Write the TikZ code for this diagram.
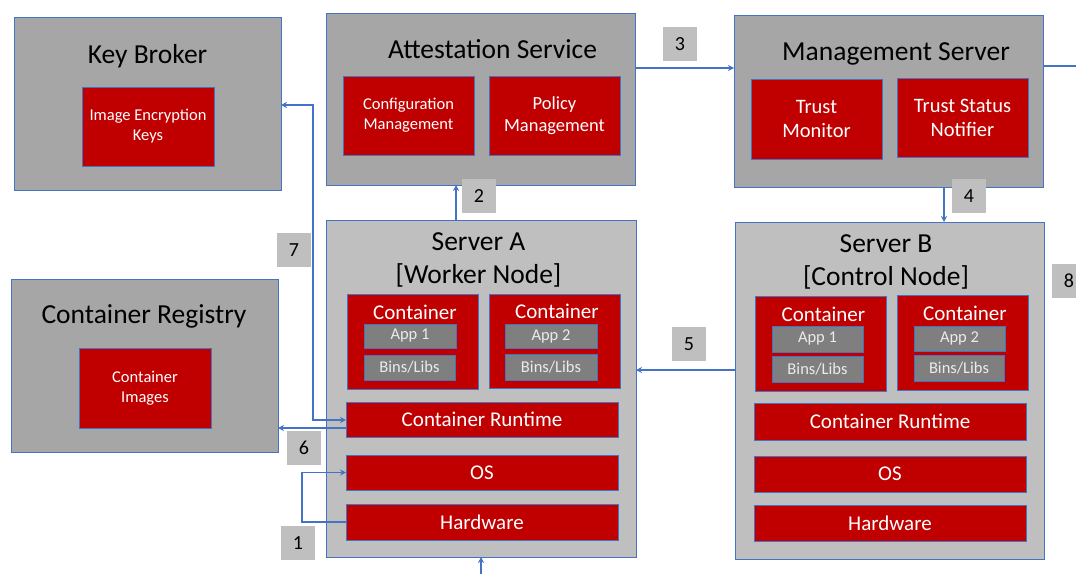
\documentclass[tikz,border=0pt]{standalone}
\usepackage{fontspec}
\setmainfont{Carlito}
\usetikzlibrary{arrows.meta}
\definecolor{bblue}{HTML}{4472C4}
\definecolor{gdark}{HTML}{A6A6A6}
\definecolor{glight}{HTML}{BFBFBF}
\definecolor{gapp}{HTML}{7F7F7F}
\definecolor{rred}{HTML}{C00000}
\tikzset{
 box/.style={draw=bblue, line width=0.9pt, anchor=north west, inner sep=0pt, outer sep=0pt},
 outerbox/.style={box, fill=gdark},
 serverbox/.style={box, fill=glight},
 redbox/.style={box, fill=rred, text=white, align=center},
 smallred/.style={redbox, font=\fontsize{16.5}{20}\selectfont},
 midred/.style={redbox, font=\fontsize{20.5}{24}\selectfont},
 layer/.style={redbox, font=\fontsize{21}{25}\selectfont},
 appbox/.style={box, fill=gapp, text=white!92!black, font=\fontsize{16.5}{19}\selectfont},
 numbox/.style={fill=glight, anchor=north west, minimum width=34pt, minimum height=34pt, inner sep=0pt, outer sep=0pt, font=\fontsize{20}{24}\selectfont},
 title/.style={font=\fontsize{27.5}{33}\selectfont, align=center, inner sep=0pt, anchor=base},
 ctitle/.style={font=\fontsize{21}{25}\selectfont, text=white, inner sep=0pt, anchor=base},
 conn/.style={draw=bblue, line width=1.3pt, -{Stealth[length=6pt,width=6pt]}},
 conn2/.style={draw=bblue, line width=1.3pt, {Stealth[length=6pt,width=6pt]}-{Stealth[length=6pt,width=6pt]}},
 plain/.style={draw=bblue, line width=1.3pt},
}
\begin{document}
\begin{tikzpicture}[x=1pt,y=-1pt]
\clip (0,0) rectangle (1076,574);
\fill[white] (0,0) rectangle (1076,574);

% Key Broker
\node[outerbox, minimum width=267pt, minimum height=173pt] (kb) at (14,17) {};
\node[title] (kbt) at (147.5,63) {Key Broker};
\node[smallred, minimum width=132pt, minimum height=79pt] (kbi) at (82,87) {Image Encryption\\Keys};

% Attestation Service
\node[outerbox, minimum width=309pt, minimum height=172pt] (as) at (326,13) {};
\node[title] (ast) at (492.5,58) {Attestation Service};
\node[smallred, minimum width=131pt, minimum height=79pt] (cm) at (343,76) {Configuration\\Management};
\node[redbox, font=\fontsize{18.5}{22.5}\selectfont, minimum width=131pt, minimum height=79pt] (pm) at (489,76) {Policy\\Management};

% Management Server
\node[outerbox, minimum width=309pt, minimum height=172pt] (ms) at (734,15) {};
\node[title] (mst) at (896,60) {Management Server};
\node[midred, minimum width=131pt, minimum height=80pt] (tm) at (751,79) {Trust\\Monitor};
\node[midred, minimum width=131pt, minimum height=79pt] (tsn) at (897,78) {Trust Status\\Notifier};

% Container Registry
\node[outerbox, minimum width=267pt, minimum height=173pt] (reg) at (11,279) {};
\node[title] (regt) at (144,323) {Container Registry};
\node[smallred, minimum width=132pt, minimum height=80pt] (ci) at (79,348) {Container\\Images};

% Server A
\node[serverbox, minimum width=310pt, minimum height=337pt] (sa) at (326,220) {};
\node[title] (sat) at (478.5,283) {Server A\\{}[Worker Node]};
\node[redbox, minimum width=131pt, minimum height=95pt] (ca1) at (347,294) {};
\node[redbox, minimum width=131pt, minimum height=94pt] (ca2) at (489,294) {};
\node[ctitle] (ca1t) at (415,319) {Container};
\node[ctitle] (ca2t) at (557,318) {Container};
\node[appbox, minimum width=92pt, minimum height=24pt] (a1) at (364,324) {App 1};
\node[appbox, minimum width=91pt, minimum height=25pt] (b1) at (364,355) {Bins/Libs};
\node[appbox, minimum width=92pt, minimum height=24pt] (a2) at (505,324) {App 2};
\node[appbox, minimum width=92pt, minimum height=26pt] (b2) at (505,354) {Bins/Libs};
\node[layer, minimum width=272pt, minimum height=35pt] (crtA) at (346,402) {Container Runtime};
\node[layer, minimum width=272pt, minimum height=35pt] (osA) at (346,455) {OS};
\node[layer, minimum width=272pt, minimum height=36pt] (hwA) at (346,504) {Hardware};

% Server B
\node[serverbox, minimum width=309pt, minimum height=337pt] (sb) at (735,222) {};
\node[title] (sbt) at (886,285) {Server B\\{}[Control Node]};
\node[redbox, minimum width=131pt, minimum height=95pt] (cb1) at (755,296) {};
\node[redbox, minimum width=131pt, minimum height=95pt] (cb2) at (897,295) {};
\node[ctitle] (cb1t) at (823.5,321) {Container};
\node[ctitle] (cb2t) at (965,320) {Container};
\node[appbox, minimum width=91pt, minimum height=26pt] (ab1) at (772,326) {App 1};
\node[appbox, minimum width=91pt, minimum height=26pt] (bb1) at (772,356) {Bins/Libs};
\node[appbox, minimum width=91pt, minimum height=25pt] (ab2) at (914,326) {App 2};
\node[appbox, minimum width=90pt, minimum height=26pt] (bb2) at (914,355) {Bins/Libs};
\node[layer, minimum width=272pt, minimum height=37pt] (crtB) at (754,403) {Container Runtime};
\node[layer, minimum width=272pt, minimum height=36pt] (osB) at (754,456) {OS};
\node[layer, minimum width=272pt, minimum height=36pt] (hwB) at (754,505) {Hardware};

% number labels
\node[numbox] (n1) at (281,526) {1};
\node[numbox] (n2) at (462,179) {2};
\node[numbox] (n3) at (663,27) {3};
\node[numbox] (n4) at (952,179) {4};
\node[numbox] (n5) at (672,327) {5};
\node[numbox] (n6) at (287,431) {6};
\node[numbox] (n7) at (277,233) {7};
\node[numbox] (n8) at (1052,264) {8};

% helper coordinates
\coordinate (y68) at (0,68);
\coordinate (msout) at (1076,66);
\coordinate (x944) at (944,0);
\coordinate (x456) at (456,0);
\coordinate (bot) at (481,574);
\coordinate (y370) at (0,370);
\coordinate (y428) at (0,428);
\coordinate (k7a) at (313,420);
\coordinate (k7b) at (313,105);
\coordinate (c1) at (302,0);

% connectors
\draw[conn] (as.east |- y68) -- (ms.west |- y68);
\draw[plain] (ms.east |- msout) -- (msout);
\draw[conn] (ms.south -| x944) -- (sb.north -| x944);
\draw[conn] (sa.north -| x456) -- (as.south -| x456);
\draw[conn] (bot) -- (sa.south -| bot);
\draw[conn] (sb.west |- y370) -- (sa.east |- y370);
\draw[conn] (crtA.west |- y428) -- (reg.east |- y428);
\draw[conn2] (kb.east |- k7b) -- (k7b) -- (k7a) -- (crtA.west |- k7a);
\draw[conn] (hwA.west) -- (hwA.west -| c1) -- (osA.west -| c1) -- (osA.west);
\end{tikzpicture}
\end{document}
